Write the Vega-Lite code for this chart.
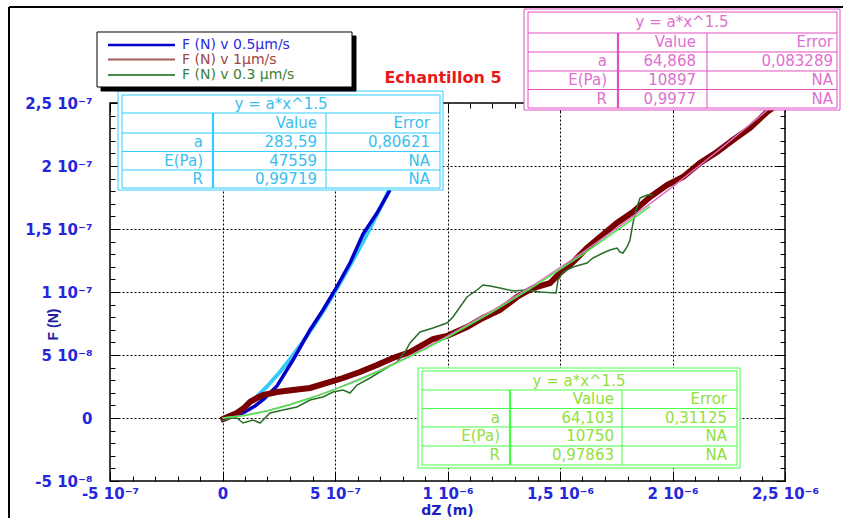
{
  "$schema": "https://vega.github.io/schema/vega-lite/v6.json",
  "width": 675,
  "height": 378,
  "autosize": {"type": "none"},
  "padding": {"left": 110, "top": 103, "right": 58, "bottom": 37},
  "background": "white",
  "config": {"view": {"stroke": "black", "strokeWidth": 1.5}},
  "resolve": {
    "axis": {"x": "independent", "y": "independent"},
    "scale": {"color": "independent", "stroke": "independent", "fill": "independent", "strokeWidth": "independent"}
  },
  "datasets": {
    "curves": [
      {"series": "0.5µm/s", "dz": -6.7e-9, "f": -2.38e-9},
      {"series": "0.5µm/s", "dz": 3.33e-8, "f": 7.9e-10},
      {"series": "0.5µm/s", "dz": 9.11e-8, "f": 3.97e-9},
      {"series": "0.5µm/s", "dz": 1.444e-7, "f": 9.52e-9},
      {"series": "0.5µm/s", "dz": 1.844e-7, "f": 1.508e-8},
      {"series": "0.5µm/s", "dz": 2.422e-7, "f": 2.54e-8},
      {"series": "0.5µm/s", "dz": 3.133e-7, "f": 4.603e-8},
      {"series": "0.5µm/s", "dz": 3.889e-7, "f": 6.984e-8},
      {"series": "0.5µm/s", "dz": 4.467e-7, "f": 8.571e-8},
      {"series": "0.5µm/s", "dz": 5.0e-7, "f": 1.0159e-7},
      {"series": "0.5µm/s", "dz": 5.667e-7, "f": 1.2302e-7},
      {"series": "0.5µm/s", "dz": 6.244e-7, "f": 1.4603e-7},
      {"series": "0.5µm/s", "dz": 6.867e-7, "f": 1.627e-7},
      {"series": "0.5µm/s", "dz": 7.444e-7, "f": 1.8095e-7},
      {"series": "1µm/s", "dz": -6.7e-9, "f": -1.59e-9},
      {"series": "1µm/s", "dz": 3.33e-8, "f": 1.59e-9},
      {"series": "1µm/s", "dz": 6.44e-8, "f": 3.97e-9},
      {"series": "1µm/s", "dz": 9.56e-8, "f": 7.94e-9},
      {"series": "1µm/s", "dz": 1.222e-7, "f": 1.27e-8},
      {"series": "1µm/s", "dz": 1.533e-7, "f": 1.587e-8},
      {"series": "1µm/s", "dz": 1.8e-7, "f": 1.825e-8},
      {"series": "1µm/s", "dz": 2.422e-7, "f": 2.063e-8},
      {"series": "1µm/s", "dz": 3.133e-7, "f": 2.222e-8},
      {"series": "1µm/s", "dz": 3.889e-7, "f": 2.381e-8},
      {"series": "1µm/s", "dz": 4.644e-7, "f": 2.778e-8},
      {"series": "1µm/s", "dz": 5.356e-7, "f": 3.175e-8},
      {"series": "1µm/s", "dz": 6.111e-7, "f": 3.651e-8},
      {"series": "1µm/s", "dz": 6.867e-7, "f": 4.206e-8},
      {"series": "1µm/s", "dz": 7.578e-7, "f": 4.762e-8},
      {"series": "1µm/s", "dz": 8.333e-7, "f": 5.238e-8},
      {"series": "1µm/s", "dz": 9.356e-7, "f": 6.27e-8},
      {"series": "1µm/s", "dz": 9.978e-7, "f": 6.508e-8},
      {"series": "1µm/s", "dz": 1.0867e-6, "f": 7.222e-8},
      {"series": "1µm/s", "dz": 1.1578e-6, "f": 7.937e-8},
      {"series": "1µm/s", "dz": 1.2333e-6, "f": 8.571e-8},
      {"series": "1µm/s", "dz": 1.3089e-6, "f": 9.603e-8},
      {"series": "1µm/s", "dz": 1.38e-6, "f": 1.0317e-7},
      {"series": "1µm/s", "dz": 1.4556e-6, "f": 1.0714e-7},
      {"series": "1µm/s", "dz": 1.5e-6, "f": 1.1508e-7},
      {"series": "1µm/s", "dz": 1.5578e-6, "f": 1.2381e-7},
      {"series": "1µm/s", "dz": 1.62e-6, "f": 1.3492e-7},
      {"series": "1µm/s", "dz": 1.6778e-6, "f": 1.4365e-7},
      {"series": "1µm/s", "dz": 1.7533e-6, "f": 1.5476e-7},
      {"series": "1µm/s", "dz": 1.8244e-6, "f": 1.6349e-7},
      {"series": "1µm/s", "dz": 1.9e-6, "f": 1.754e-7},
      {"series": "1µm/s", "dz": 1.9756e-6, "f": 1.8492e-7},
      {"series": "1µm/s", "dz": 2.0467e-6, "f": 1.9127e-7},
      {"series": "1µm/s", "dz": 2.1222e-6, "f": 2.0238e-7},
      {"series": "1µm/s", "dz": 2.1978e-6, "f": 2.1111e-7},
      {"series": "1µm/s", "dz": 2.2689e-6, "f": 2.2063e-7},
      {"series": "1µm/s", "dz": 2.3444e-6, "f": 2.3016e-7},
      {"series": "1µm/s", "dz": 2.42e-6, "f": 2.4286e-7},
      {"series": "1µm/s", "dz": 2.4689e-6, "f": 2.4921e-7},
      {"series": "0.3µm/s", "dz": -6.7e-9, "f": -2.38e-9},
      {"series": "0.3µm/s", "dz": 3.33e-8, "f": 0},
      {"series": "0.3µm/s", "dz": 6.44e-8, "f": 0},
      {"series": "0.3µm/s", "dz": 9.11e-8, "f": -3.97e-9},
      {"series": "0.3µm/s", "dz": 1.356e-7, "f": -1.59e-9},
      {"series": "0.3µm/s", "dz": 1.667e-7, "f": -3.97e-9},
      {"series": "0.3µm/s", "dz": 2.111e-7, "f": 3.97e-9},
      {"series": "0.3µm/s", "dz": 2.689e-7, "f": 6.35e-9},
      {"series": "0.3µm/s", "dz": 3.311e-7, "f": 8.73e-9},
      {"series": "0.3µm/s", "dz": 3.889e-7, "f": 1.429e-8},
      {"series": "0.3µm/s", "dz": 4.467e-7, "f": 1.667e-8},
      {"series": "0.3µm/s", "dz": 4.911e-7, "f": 2.063e-8},
      {"series": "0.3µm/s", "dz": 5.356e-7, "f": 2.222e-8},
      {"series": "0.3µm/s", "dz": 5.667e-7, "f": 1.984e-8},
      {"series": "0.3µm/s", "dz": 5.978e-7, "f": 2.619e-8},
      {"series": "0.3µm/s", "dz": 6.556e-7, "f": 3.175e-8},
      {"series": "0.3µm/s", "dz": 7.133e-7, "f": 3.81e-8},
      {"series": "0.3µm/s", "dz": 7.756e-7, "f": 4.444e-8},
      {"series": "0.3µm/s", "dz": 8.111e-7, "f": 5.238e-8},
      {"series": "0.3µm/s", "dz": 8.333e-7, "f": 5.952e-8},
      {"series": "0.3µm/s", "dz": 8.778e-7, "f": 6.825e-8},
      {"series": "0.3µm/s", "dz": 9.356e-7, "f": 7.143e-8},
      {"series": "0.3µm/s", "dz": 9.978e-7, "f": 7.54e-8},
      {"series": "0.3µm/s", "dz": 1.0244e-6, "f": 8.016e-8},
      {"series": "0.3µm/s", "dz": 1.0556e-6, "f": 8.81e-8},
      {"series": "0.3µm/s", "dz": 1.0867e-6, "f": 9.603e-8},
      {"series": "0.3µm/s", "dz": 1.1311e-6, "f": 1.0159e-7},
      {"series": "0.3µm/s", "dz": 1.1578e-6, "f": 1.0556e-7},
      {"series": "0.3µm/s", "dz": 1.1889e-6, "f": 1.0476e-7},
      {"series": "0.3µm/s", "dz": 1.2333e-6, "f": 1.0317e-7},
      {"series": "0.3µm/s", "dz": 1.2911e-6, "f": 1.0079e-7},
      {"series": "0.3µm/s", "dz": 1.3533e-6, "f": 1.0159e-7},
      {"series": "0.3µm/s", "dz": 1.4111e-6, "f": 1.0e-7},
      {"series": "0.3µm/s", "dz": 1.4822e-6, "f": 9.921e-8},
      {"series": "0.3µm/s", "dz": 1.4911e-6, "f": 1.0952e-7},
      {"series": "0.3µm/s", "dz": 1.5133e-6, "f": 1.1587e-7},
      {"series": "0.3µm/s", "dz": 1.5578e-6, "f": 1.1984e-7},
      {"series": "0.3µm/s", "dz": 1.62e-6, "f": 1.2302e-7},
      {"series": "0.3µm/s", "dz": 1.6467e-6, "f": 1.2698e-7},
      {"series": "0.3µm/s", "dz": 1.6911e-6, "f": 1.3095e-7},
      {"series": "0.3µm/s", "dz": 1.7222e-6, "f": 1.3333e-7},
      {"series": "0.3µm/s", "dz": 1.7533e-6, "f": 1.3492e-7},
      {"series": "0.3µm/s", "dz": 1.7667e-6, "f": 1.3175e-7},
      {"series": "0.3µm/s", "dz": 1.78e-6, "f": 1.3095e-7},
      {"series": "0.3µm/s", "dz": 1.7978e-6, "f": 1.3571e-7},
      {"series": "0.3µm/s", "dz": 1.8111e-6, "f": 1.4127e-7},
      {"series": "0.3µm/s", "dz": 1.8244e-6, "f": 1.5476e-7},
      {"series": "0.3µm/s", "dz": 1.8422e-6, "f": 1.6746e-7},
      {"series": "0.3µm/s", "dz": 1.8556e-6, "f": 1.746e-7},
      {"series": "0.3µm/s", "dz": 1.8867e-6, "f": 1.7698e-7},
      {"series": "0.3µm/s", "dz": 1.9133e-6, "f": 1.7698e-7}
    ],
    "fits": [
      {"fit": "0.5µm/s", "dz": 0, "f": 0},
      {"fit": "0.5µm/s", "dz": 5e-8, "f": 3.2e-9},
      {"fit": "0.5µm/s", "dz": 1e-7, "f": 9.0e-9},
      {"fit": "0.5µm/s", "dz": 1.5e-7, "f": 1.65e-8},
      {"fit": "0.5µm/s", "dz": 2e-7, "f": 2.54e-8},
      {"fit": "0.5µm/s", "dz": 2.5e-7, "f": 3.55e-8},
      {"fit": "0.5µm/s", "dz": 3e-7, "f": 4.66e-8},
      {"fit": "0.5µm/s", "dz": 3.5e-7, "f": 5.87e-8},
      {"fit": "0.5µm/s", "dz": 4e-7, "f": 7.17e-8},
      {"fit": "0.5µm/s", "dz": 4.5e-7, "f": 8.56e-8},
      {"fit": "0.5µm/s", "dz": 5e-7, "f": 1.003e-7},
      {"fit": "0.5µm/s", "dz": 5.5e-7, "f": 1.157e-7},
      {"fit": "0.5µm/s", "dz": 6e-7, "f": 1.318e-7},
      {"fit": "0.5µm/s", "dz": 6.5e-7, "f": 1.486e-7},
      {"fit": "0.5µm/s", "dz": 7e-7, "f": 1.661e-7},
      {"fit": "0.5µm/s", "dz": 7.5e-7, "f": 1.842e-7},
      {"fit": "1µm/s", "dz": 0, "f": 0},
      {"fit": "1µm/s", "dz": 1e-7, "f": 2.1e-9},
      {"fit": "1µm/s", "dz": 2e-7, "f": 5.8e-9},
      {"fit": "1µm/s", "dz": 3e-7, "f": 1.07e-8},
      {"fit": "1µm/s", "dz": 4e-7, "f": 1.64e-8},
      {"fit": "1µm/s", "dz": 5e-7, "f": 2.29e-8},
      {"fit": "1µm/s", "dz": 6e-7, "f": 3.02e-8},
      {"fit": "1µm/s", "dz": 7e-7, "f": 3.8e-8},
      {"fit": "1µm/s", "dz": 8e-7, "f": 4.64e-8},
      {"fit": "1µm/s", "dz": 9e-7, "f": 5.54e-8},
      {"fit": "1µm/s", "dz": 1e-6, "f": 6.49e-8},
      {"fit": "1µm/s", "dz": 1.2e-6, "f": 8.53e-8},
      {"fit": "1µm/s", "dz": 1.4e-6, "f": 1.075e-7},
      {"fit": "1µm/s", "dz": 1.6e-6, "f": 1.313e-7},
      {"fit": "1µm/s", "dz": 1.8e-6, "f": 1.567e-7},
      {"fit": "1µm/s", "dz": 2e-6, "f": 1.834e-7},
      {"fit": "1µm/s", "dz": 2.2e-6, "f": 2.117e-7},
      {"fit": "1µm/s", "dz": 2.4e-6, "f": 2.412e-7},
      {"fit": "1µm/s", "dz": 2.5e-6, "f": 2.564e-7},
      {"fit": "0.3µm/s", "dz": 0, "f": 0},
      {"fit": "0.3µm/s", "dz": 1e-7, "f": 2.0e-9},
      {"fit": "0.3µm/s", "dz": 2e-7, "f": 5.7e-9},
      {"fit": "0.3µm/s", "dz": 3e-7, "f": 1.05e-8},
      {"fit": "0.3µm/s", "dz": 4e-7, "f": 1.62e-8},
      {"fit": "0.3µm/s", "dz": 5e-7, "f": 2.27e-8},
      {"fit": "0.3µm/s", "dz": 6e-7, "f": 2.98e-8},
      {"fit": "0.3µm/s", "dz": 7e-7, "f": 3.75e-8},
      {"fit": "0.3µm/s", "dz": 8e-7, "f": 4.59e-8},
      {"fit": "0.3µm/s", "dz": 9e-7, "f": 5.47e-8},
      {"fit": "0.3µm/s", "dz": 1e-6, "f": 6.41e-8},
      {"fit": "0.3µm/s", "dz": 1.2e-6, "f": 8.43e-8},
      {"fit": "0.3µm/s", "dz": 1.4e-6, "f": 1.062e-7},
      {"fit": "0.3µm/s", "dz": 1.6e-6, "f": 1.297e-7},
      {"fit": "0.3µm/s", "dz": 1.8e-6, "f": 1.548e-7},
      {"fit": "0.3µm/s", "dz": 1.9e-6, "f": 1.679e-7}
    ],
    "frame": [
      {"x1": -9.489e-7, "x2": -9.489e-7, "y1": 3.2619e-7, "y2": -7.937e-8},
      {"x1": -9.489e-7, "x2": 2.7578e-6, "y1": 3.2619e-7, "y2": 3.2619e-7}
    ],
    "heading": [
      {"text": "Echantillon 5", "x": 9.8e-7, "y": 2.6984e-7}
    ],
    "boxes": [
      {"table": "cyan", "x1": -4.644e-7, "x2": 9.8e-7, "y1": 2.5952e-7, "y2": 1.8095e-7},
      {"table": "cyan", "x1": -4.467e-7, "x2": 9.667e-7, "y1": 2.5635e-7, "y2": 1.8254e-7},
      {"table": "pink", "x1": 1.34e-6, "x2": 2.7444e-6, "y1": 3.246e-7, "y2": 2.4444e-7},
      {"table": "pink", "x1": 1.3578e-6, "x2": 2.7311e-6, "y1": 3.2222e-7, "y2": 2.4603e-7},
      {"table": "green", "x1": 8.689e-7, "x2": 2.3e-6, "y1": 3.968e-8, "y2": -3.968e-8},
      {"table": "green", "x1": 8.867e-7, "x2": 2.2867e-6, "y1": 3.73e-8, "y2": -3.73e-8}
    ],
    "tlines": [
      {"table": "cyan", "kind": "thin", "x1": -4.467e-7, "x2": 9.667e-7, "y1": 2.4206e-7, "y2": 2.4206e-7},
      {"table": "cyan", "kind": "thin", "x1": -4.467e-7, "x2": 9.667e-7, "y1": 2.2619e-7, "y2": 2.2619e-7},
      {"table": "cyan", "kind": "thin", "x1": -4.467e-7, "x2": 9.667e-7, "y1": 2.1151e-7, "y2": 2.1151e-7},
      {"table": "cyan", "kind": "thin", "x1": -4.467e-7, "x2": 9.667e-7, "y1": 1.9683e-7, "y2": 1.9683e-7},
      {"table": "cyan", "kind": "thick", "x1": -4.22e-8, "x2": -4.22e-8, "y1": 2.4206e-7, "y2": 1.8254e-7},
      {"table": "cyan", "kind": "thin", "x1": 4.6e-7, "x2": 4.6e-7, "y1": 2.4206e-7, "y2": 1.8254e-7},
      {"table": "pink", "kind": "thin", "x1": 1.3578e-6, "x2": 2.7311e-6, "y1": 3.0556e-7, "y2": 3.0556e-7},
      {"table": "pink", "kind": "thin", "x1": 1.3578e-6, "x2": 2.7311e-6, "y1": 2.9048e-7, "y2": 2.9048e-7},
      {"table": "pink", "kind": "thin", "x1": 1.3578e-6, "x2": 2.7311e-6, "y1": 2.754e-7, "y2": 2.754e-7},
      {"table": "pink", "kind": "thin", "x1": 1.3578e-6, "x2": 2.7311e-6, "y1": 2.6071e-7, "y2": 2.6071e-7},
      {"table": "pink", "kind": "thick", "x1": 1.7578e-6, "x2": 1.7578e-6, "y1": 3.0556e-7, "y2": 2.4603e-7},
      {"table": "pink", "kind": "thin", "x1": 2.1533e-6, "x2": 2.1533e-6, "y1": 3.0556e-7, "y2": 2.4603e-7},
      {"table": "green", "kind": "thin", "x1": 8.867e-7, "x2": 2.2867e-6, "y1": 2.222e-8, "y2": 2.222e-8},
      {"table": "green", "kind": "thin", "x1": 8.867e-7, "x2": 2.2867e-6, "y1": 7.54e-9, "y2": 7.54e-9},
      {"table": "green", "kind": "thin", "x1": 8.867e-7, "x2": 2.2867e-6, "y1": -7.14e-9, "y2": -7.14e-9},
      {"table": "green", "kind": "thin", "x1": 8.867e-7, "x2": 2.2867e-6, "y1": -2.222e-8, "y2": -2.222e-8},
      {"table": "green", "kind": "thick", "x1": 1.2778e-6, "x2": 1.2778e-6, "y1": 2.222e-8, "y2": -3.73e-8},
      {"table": "green", "kind": "thin", "x1": 1.7756e-6, "x2": 1.7756e-6, "y1": 2.222e-8, "y2": -3.73e-8}
    ],
    "cells": [
      {"table": "cyan", "kind": "title", "text": "y = a*x^1.5", "x": 2.6e-7, "y": 2.4921e-7},
      {"table": "cyan", "kind": "cell", "text": "Value", "x": 4.2e-7, "y": 2.3413e-7},
      {"table": "cyan", "kind": "cell", "text": "Error", "x": 9.222e-7, "y": 2.3413e-7},
      {"table": "cyan", "kind": "cell", "text": "a", "x": -8.67e-8, "y": 2.1905e-7},
      {"table": "cyan", "kind": "cell", "text": "283,59", "x": 4.2e-7, "y": 2.1905e-7},
      {"table": "cyan", "kind": "cell", "text": "0,80621", "x": 9.222e-7, "y": 2.1905e-7},
      {"table": "cyan", "kind": "cell", "text": "E(Pa)", "x": -8.67e-8, "y": 2.0397e-7},
      {"table": "cyan", "kind": "cell", "text": "47559", "x": 4.2e-7, "y": 2.0397e-7},
      {"table": "cyan", "kind": "cell", "text": "NA", "x": 9.222e-7, "y": 2.0397e-7},
      {"table": "cyan", "kind": "cell", "text": "R", "x": -8.67e-8, "y": 1.8968e-7},
      {"table": "cyan", "kind": "cell", "text": "0,99719", "x": 4.2e-7, "y": 1.8968e-7},
      {"table": "cyan", "kind": "cell", "text": "NA", "x": 9.222e-7, "y": 1.8968e-7},
      {"table": "pink", "kind": "title", "text": "y = a*x^1.5", "x": 2.0422e-6, "y": 3.1389e-7},
      {"table": "pink", "kind": "cell", "text": "Value", "x": 2.1044e-6, "y": 2.9802e-7},
      {"table": "pink", "kind": "cell", "text": "Error", "x": 2.7133e-6, "y": 2.9802e-7},
      {"table": "pink", "kind": "cell", "text": "a", "x": 1.7089e-6, "y": 2.8294e-7},
      {"table": "pink", "kind": "cell", "text": "64,868", "x": 2.1044e-6, "y": 2.8294e-7},
      {"table": "pink", "kind": "cell", "text": "0,083289", "x": 2.7133e-6, "y": 2.8294e-7},
      {"table": "pink", "kind": "cell", "text": "E(Pa)", "x": 1.7089e-6, "y": 2.6825e-7},
      {"table": "pink", "kind": "cell", "text": "10897", "x": 2.1044e-6, "y": 2.6825e-7},
      {"table": "pink", "kind": "cell", "text": "NA", "x": 2.7133e-6, "y": 2.6825e-7},
      {"table": "pink", "kind": "cell", "text": "R", "x": 1.7089e-6, "y": 2.5317e-7},
      {"table": "pink", "kind": "cell", "text": "0,9977", "x": 2.1044e-6, "y": 2.5317e-7},
      {"table": "pink", "kind": "cell", "text": "NA", "x": 2.7133e-6, "y": 2.5317e-7},
      {"table": "green", "kind": "title", "text": "y = a*x^1.5", "x": 1.5844e-6, "y": 2.976e-8},
      {"table": "green", "kind": "cell", "text": "Value", "x": 1.74e-6, "y": 1.508e-8},
      {"table": "green", "kind": "cell", "text": "Error", "x": 2.2422e-6, "y": 1.508e-8},
      {"table": "green", "kind": "cell", "text": "a", "x": 1.2333e-6, "y": 0},
      {"table": "green", "kind": "cell", "text": "64,103", "x": 1.74e-6, "y": 0},
      {"table": "green", "kind": "cell", "text": "0,31125", "x": 2.2422e-6, "y": 0},
      {"table": "green", "kind": "cell", "text": "E(Pa)", "x": 1.2333e-6, "y": -1.468e-8},
      {"table": "green", "kind": "cell", "text": "10750", "x": 1.74e-6, "y": -1.468e-8},
      {"table": "green", "kind": "cell", "text": "NA", "x": 2.2422e-6, "y": -1.468e-8},
      {"table": "green", "kind": "cell", "text": "R", "x": 1.2333e-6, "y": -2.976e-8},
      {"table": "green", "kind": "cell", "text": "0,97863", "x": 1.74e-6, "y": -2.976e-8},
      {"table": "green", "kind": "cell", "text": "NA", "x": 2.2422e-6, "y": -2.976e-8}
    ],
    "legendBox": [
      {"part": "shadow", "x1": -5.4e-7, "x2": 5.933e-7, "y1": 3.0317e-7, "y2": 2.5952e-7},
      {"part": "box", "x1": -5.578e-7, "x2": 5.756e-7, "y1": 3.0635e-7, "y2": 2.627e-7}
    ],
    "legend": [
      {"series": "F (N) v 0.5µm/s", "x1": -5.089e-7, "x2": -2.111e-7, "tx": -1.8e-7, "f": 2.9603e-7},
      {"series": "F (N) v 1µm/s", "x1": -5.089e-7, "x2": -2.111e-7, "tx": -1.8e-7, "f": 2.8452e-7},
      {"series": "F (N) v 0.3 µm/s", "x1": -5.089e-7, "x2": -2.111e-7, "tx": -1.8e-7, "f": 2.7222e-7}
    ]
  },
  "layer": [
    {
      "data": {"name": "fits"},
      "transform": [{"filter": "datum.fit == '0.5µm/s'"}],
      "mark": {"type": "line", "color": "#38c8f8", "strokeWidth": 4, "clip": true},
      "encoding": {
        "x": {"field": "dz", "type": "quantitative", "scale": {"domain": [-5e-7, 2.5e-6], "nice": false, "zero": false},
              "axis": {"orient": "bottom", "grid": true, "gridColor": "#000", "gridDash": [2, 2], "gridWidth": 1, "ticks": false, "labels": false, "domain": false, "title": null, "values": [0, 5e-7, 1e-6, 1.5e-6, 2e-6]}},
        "y": {"field": "f", "type": "quantitative", "scale": {"domain": [-5e-8, 2.5e-7], "nice": false, "zero": false},
              "axis": {"orient": "left", "grid": true, "gridColor": "#000", "gridDash": [2, 2], "gridWidth": 1, "ticks": false, "labels": false, "domain": false, "title": null, "values": [0, 5e-8, 1e-7, 1.5e-7, 2e-7]}}
      }
    },
    {
      "data": {"name": "curves"},
      "transform": [{"filter": "datum.series == '0.5µm/s'"}],
      "mark": {"type": "line", "color": "#0000c8", "strokeWidth": 3.5, "clip": true},
      "encoding": {
        "x": {"field": "dz", "type": "quantitative", "scale": {"domain": [-5e-7, 2.5e-6], "nice": false, "zero": false},
              "axis": {"orient": "bottom", "offset": -9, "tickSize": 9, "tickColor": "#000", "tickWidth": 1, "domain": false, "grid": false,
                       "values": [-5e-7, 0, 5e-7, 1e-6, 1.5e-6, 2e-6, 2.5e-6],
                       "labelExpr": "abs(datum.value) < 1e-12 ? '0' : abs(datum.value) < 9e-7 ? round(datum.value*1e7) + ' 10⁻⁷' : replace(round(datum.value*1e7)/10 + '', '.', ',') + ' 10⁻⁶'",
                       "labelFont": "DejaVu Sans", "labelFontSize": 15, "labelFontWeight": "bold", "labelColor": "#2626dc", "labelPadding": 5,
                       "labelOverlap": false, "labelFlush": false, "labelBound": false,
                       "title": "dZ (m)", "titleFont": "DejaVu Sans", "titleFontSize": 14, "titleFontWeight": "bold", "titleColor": "#2020c0",
                       "titleX": 337, "titleY": 38, "titleBaseline": "middle", "titleAlign": "center"}},
        "y": {"field": "f", "type": "quantitative", "scale": {"domain": [-5e-8, 2.5e-7], "nice": false, "zero": false},
              "axis": {"orient": "left", "offset": -9, "tickSize": 9, "tickColor": "#000", "tickWidth": 1, "domain": false, "grid": false,
                       "values": [-5e-8, 0, 5e-8, 1e-7, 1.5e-7, 2e-7, 2.5e-7],
                       "labelExpr": "abs(datum.value) < 1e-15 ? '0' : abs(datum.value) < 9e-8 ? round(datum.value*1e8) + ' 10⁻⁸' : replace(round(datum.value*1e8)/10 + '', '.', ',') + ' 10⁻⁷'",
                       "labelFont": "DejaVu Sans", "labelFontSize": 15, "labelFontWeight": "bold", "labelColor": "#2626dc", "labelPadding": 18,
                       "labelOverlap": false, "labelFlush": false, "labelBound": false,
                       "title": "F (N)", "titleFont": "Liberation Sans", "titleFontSize": 14, "titleFontWeight": "bold", "titleColor": "#1e1ea0",
                       "titleAngle": 270, "titleX": -66, "titleY": 221, "titleBaseline": "middle", "titleAlign": "center"}}
      }
    },
    {
      "data": {"name": "curves"},
      "transform": [{"filter": "datum.series == '1µm/s'"}],
      "mark": {"type": "line", "color": "#7a0000", "strokeWidth": 6, "clip": true},
      "encoding": {
        "x": {"field": "dz", "type": "quantitative", "scale": {"domain": [-5e-7, 2.5e-6], "nice": false, "zero": false},
              "axis": {"orient": "bottom", "offset": -5, "tickSize": 5, "tickColor": "#000", "tickWidth": 1, "domain": false, "grid": false, "labels": false, "title": null,
                       "values": [-4e-7, -3e-7, -2e-7, -1e-7, 1e-7, 2e-7, 3e-7, 4e-7, 6e-7, 7e-7, 8e-7, 9e-7, 1.1e-6, 1.2e-6, 1.3e-6, 1.4e-6, 1.6e-6, 1.7e-6, 1.8e-6, 1.9e-6, 2.1e-6, 2.2e-6, 2.3e-6, 2.4e-6]}},
        "y": {"field": "f", "type": "quantitative", "scale": {"domain": [-5e-8, 2.5e-7], "nice": false, "zero": false},
              "axis": {"orient": "left", "offset": -5, "tickSize": 5, "tickColor": "#000", "tickWidth": 1, "domain": false, "grid": false, "labels": false, "title": null,
                       "values": [-4e-8, -3e-8, -2e-8, -1e-8, 1e-8, 2e-8, 3e-8, 4e-8, 6e-8, 7e-8, 8e-8, 9e-8, 1.1e-7, 1.2e-7, 1.3e-7, 1.4e-7, 1.6e-7, 1.7e-7, 1.8e-7, 1.9e-7, 2.1e-7, 2.2e-7, 2.3e-7, 2.4e-7]}}
      }
    },
    {
      "data": {"name": "curves"},
      "transform": [{"filter": "datum.series == '0.3µm/s'"}],
      "mark": {"type": "line", "color": "#2b6e2b", "strokeWidth": 1.5, "clip": true},
      "encoding": {
        "x": {"field": "dz", "type": "quantitative", "scale": {"domain": [-5e-7, 2.5e-6], "nice": false, "zero": false},
              "axis": {"orient": "top", "offset": -9, "tickSize": 9, "tickColor": "#000", "tickWidth": 1, "domain": false, "grid": false, "labels": false, "title": null,
                       "values": [-5e-7, 0, 5e-7, 1e-6, 1.5e-6, 2e-6, 2.5e-6]}},
        "y": {"field": "f", "type": "quantitative", "scale": {"domain": [-5e-8, 2.5e-7], "nice": false, "zero": false},
              "axis": {"orient": "right", "offset": -9, "tickSize": 9, "tickColor": "#000", "tickWidth": 1, "domain": false, "grid": false, "labels": false, "title": null,
                       "values": [-5e-8, 0, 5e-8, 1e-7, 1.5e-7, 2e-7, 2.5e-7]}}
      }
    },
    {
      "data": {"name": "fits"},
      "transform": [{"filter": "datum.fit == '1µm/s'"}],
      "mark": {"type": "line", "color": "#e070c8", "strokeWidth": 1.5, "clip": true},
      "encoding": {
        "x": {"field": "dz", "type": "quantitative", "scale": {"domain": [-5e-7, 2.5e-6], "nice": false, "zero": false},
              "axis": {"orient": "top", "offset": -5, "tickSize": 5, "tickColor": "#000", "tickWidth": 1, "domain": false, "grid": false, "labels": false, "title": null,
                       "values": [-4e-7, -3e-7, -2e-7, -1e-7, 1e-7, 2e-7, 3e-7, 4e-7, 6e-7, 7e-7, 8e-7, 9e-7, 1.1e-6, 1.2e-6, 1.3e-6, 1.4e-6, 1.6e-6, 1.7e-6, 1.8e-6, 1.9e-6, 2.1e-6, 2.2e-6, 2.3e-6, 2.4e-6]}},
        "y": {"field": "f", "type": "quantitative", "scale": {"domain": [-5e-8, 2.5e-7], "nice": false, "zero": false},
              "axis": {"orient": "right", "offset": -5, "tickSize": 5, "tickColor": "#000", "tickWidth": 1, "domain": false, "grid": false, "labels": false, "title": null,
                       "values": [-4e-8, -3e-8, -2e-8, -1e-8, 1e-8, 2e-8, 3e-8, 4e-8, 6e-8, 7e-8, 8e-8, 9e-8, 1.1e-7, 1.2e-7, 1.3e-7, 1.4e-7, 1.6e-7, 1.7e-7, 1.8e-7, 1.9e-7, 2.1e-7, 2.2e-7, 2.3e-7, 2.4e-7]}}
      }
    },
    {
      "data": {"name": "fits"},
      "transform": [{"filter": "datum.fit == '0.3µm/s'"}],
      "mark": {"type": "line", "color": "#44ee44", "strokeWidth": 1.5, "clip": true},
      "encoding": {
        "x": {"field": "dz", "type": "quantitative", "axis": null},
        "y": {"field": "f", "type": "quantitative", "axis": null}
      }
    },
    {
      "data": {"name": "frame"},
      "mark": {"type": "rule", "color": "black", "strokeWidth": 2},
      "encoding": {
        "x": {"field": "x1", "type": "quantitative", "axis": null},
        "x2": {"field": "x2"},
        "y": {"field": "y1", "type": "quantitative", "axis": null},
        "y2": {"field": "y2"}
      }
    },
    {
      "data": {"name": "heading"},
      "mark": {"type": "text", "align": "center", "baseline": "middle", "font": "DejaVu Sans", "fontSize": 16, "fontWeight": "bold", "color": "#e81818"},
      "encoding": {
        "x": {"field": "x", "type": "quantitative", "axis": null},
        "y": {"field": "y", "type": "quantitative", "axis": null},
        "text": {"field": "text"}
      }
    },
    {
      "data": {"name": "boxes"},
      "mark": {"type": "rect", "fill": "white", "strokeWidth": 1},
      "encoding": {
        "x": {"field": "x1", "type": "quantitative", "axis": null},
        "x2": {"field": "x2"},
        "y": {"field": "y1", "type": "quantitative", "axis": null},
        "y2": {"field": "y2"},
        "stroke": {"field": "table", "type": "nominal", "scale": {"domain": ["cyan", "pink", "green"], "range": ["#33ccff", "#e050c0", "#44ff44"]}, "legend": null}
      }
    },
    {
      "data": {"name": "tlines"},
      "mark": {"type": "rule"},
      "encoding": {
        "x": {"field": "x1", "type": "quantitative", "axis": null},
        "x2": {"field": "x2"},
        "y": {"field": "y1", "type": "quantitative", "axis": null},
        "y2": {"field": "y2"},
        "color": {"field": "table", "type": "nominal", "scale": {"domain": ["cyan", "pink", "green"], "range": ["#33ccff", "#e050c0", "#44ff44"]}, "legend": null},
        "strokeWidth": {"field": "kind", "type": "nominal", "scale": {"domain": ["thin", "thick"], "range": [1, 2.2]}, "legend": null}
      }
    },
    {
      "data": {"name": "cells"},
      "transform": [{"filter": "datum.kind == 'cell'"}],
      "mark": {"type": "text", "align": "right", "baseline": "middle", "font": "DejaVu Sans", "fontSize": 15},
      "encoding": {
        "x": {"field": "x", "type": "quantitative", "axis": null},
        "y": {"field": "y", "type": "quantitative", "axis": null},
        "text": {"field": "text"},
        "color": {"field": "table", "type": "nominal", "scale": {"domain": ["cyan", "pink", "green"], "range": ["#38bff0", "#e070d0", "#90e040"]}, "legend": null}
      }
    },
    {
      "data": {"name": "cells"},
      "transform": [{"filter": "datum.kind == 'title'"}],
      "mark": {"type": "text", "align": "center", "baseline": "middle", "font": "DejaVu Sans", "fontSize": 15},
      "encoding": {
        "x": {"field": "x", "type": "quantitative", "axis": null},
        "y": {"field": "y", "type": "quantitative", "axis": null},
        "text": {"field": "text"},
        "color": {"field": "table", "type": "nominal", "scale": {"domain": ["cyan", "pink", "green"], "range": ["#38bff0", "#e070d0", "#90e040"]}, "legend": null}
      }
    },
    {
      "data": {"name": "legendBox"},
      "mark": {"type": "rect", "stroke": "black", "strokeWidth": 1},
      "encoding": {
        "x": {"field": "x1", "type": "quantitative", "axis": null},
        "x2": {"field": "x2"},
        "y": {"field": "y1", "type": "quantitative", "axis": null},
        "y2": {"field": "y2"},
        "fill": {"field": "part", "type": "nominal", "scale": {"domain": ["shadow", "box"], "range": ["black", "white"]}, "legend": null}
      }
    },
    {
      "data": {"name": "legend"},
      "mark": {"type": "rule"},
      "encoding": {
        "x": {"field": "x1", "type": "quantitative", "axis": null},
        "x2": {"field": "x2"},
        "y": {"field": "f", "type": "quantitative", "axis": null},
        "color": {"field": "series", "type": "nominal", "scale": {"domain": ["F (N) v 0.5µm/s", "F (N) v 1µm/s", "F (N) v 0.3 µm/s"], "range": ["#0000d0", "#a85a5a", "#4b8b4b"]}, "legend": null},
        "strokeWidth": {"field": "series", "type": "nominal", "scale": {"domain": ["F (N) v 0.5µm/s", "F (N) v 1µm/s", "F (N) v 0.3 µm/s"], "range": [2.5, 1.8, 1.3]}, "legend": null}
      }
    },
    {
      "data": {"name": "legend"},
      "mark": {"type": "text", "align": "left", "baseline": "middle", "font": "DejaVu Sans", "fontSize": 14},
      "encoding": {
        "x": {"field": "tx", "type": "quantitative", "axis": null},
        "y": {"field": "f", "type": "quantitative", "axis": null},
        "text": {"field": "series"},
        "color": {"field": "series", "type": "nominal", "scale": {"domain": ["F (N) v 0.5µm/s", "F (N) v 1µm/s", "F (N) v 0.3 µm/s"], "range": ["#2b2be0", "#a04545", "#3b7f3b"]}, "legend": null}
      }
    }
  ]
}
